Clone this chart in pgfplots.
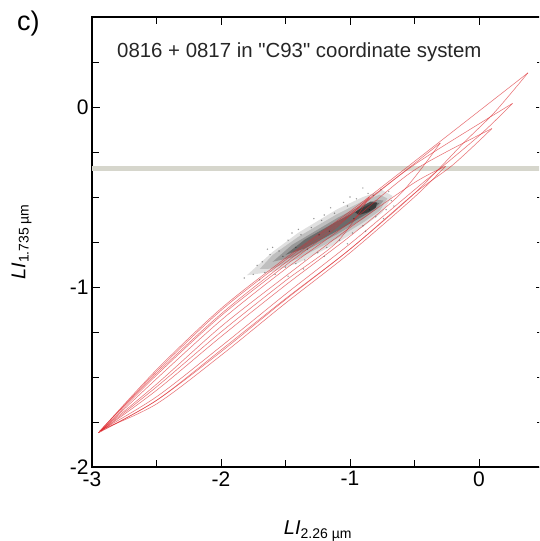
\documentclass[border=0pt]{standalone}
\usepackage{fontspec}
\setmainfont{Liberation Sans}[Ligatures=TeXOff]
\usepackage{pgfplots}
\pgfplotsset{compat=1.18}

\definecolor{loopred}{RGB}{220,40,45}
\definecolor{band}{RGB}{214,214,204}

\begin{document}
\begin{tikzpicture}
\path[use as bounding box] (0,0) rectangle (539pt,541pt);
\clip (0,0) rectangle (539pt,541pt);
\begin{axis}[
    at={(92pt,74pt)}, anchor=south west,
    scale only axis, width=451.5pt, height=450pt,
    xmin=-3, xmax=0.5, ymin=-2, ymax=0.5,
    clip=false,
    axis line style={line width=1.6pt},
    xtick={-3,-2,-1,0}, xticklabels={-3,-2,-1,0},
    minor xtick={-2.5,-1.5,-0.5},
    ytick={-2,-1,0}, yticklabels={-2,-1,0},
    minor ytick={-1.75,-1.5,-1.25,-0.75,-0.5,-0.25,0.25},
    major tick length=8pt, minor tick length=7pt,
    every tick/.style={line width=0.9pt, black},
    ticklabel style={font=\fontsize{21}{21}\selectfont},
    xticklabel style={yshift=-1pt},
    xlabel={{\itshape LI}\raisebox{-0.3ex}{\fontsize{14}{14}\selectfont 2.26 µm}},
    ylabel={{\itshape LI}\raisebox{-0.3ex}{\fontsize{14}{14}\selectfont 1.735 µm}},
    label style={font=\fontsize{20}{20}\selectfont},
    xlabel style={at={(axis description cs:0.5,-0.151)}, anchor=base},
    ylabel style={at={(axis description cs:-0.1473,0.5)}, anchor=base},
]
% grey band
\addplot[line width=5pt, band] coordinates {(-3,-0.344) (0.5,-0.344)};

% point cloud, drawn as nested density layers
\addplot[fill=black, draw=none, opacity=0.12] coordinates {
(-1.80,-0.935) (-1.6,-0.805) (-1.4,-0.698) (-1.1,-0.568) (-0.9,-0.500)
(-0.75,-0.462) (-0.67,-0.494) (-0.75,-0.586) (-0.9,-0.666) (-1.1,-0.756)
(-1.4,-0.866) (-1.6,-0.915) (-1.80,-0.935)};
\addplot[fill=black, draw=none, opacity=0.15] coordinates {
(-1.70,-0.900) (-1.6,-0.822) (-1.4,-0.721) (-1.1,-0.595) (-0.9,-0.523)
(-0.77,-0.487) (-0.71,-0.508) (-0.77,-0.577) (-0.9,-0.643) (-1.1,-0.730)
(-1.4,-0.841) (-1.6,-0.898) (-1.70,-0.900)};
\addplot[fill=black, draw=none, opacity=0.20] coordinates {
(-1.60,-0.860) (-1.45,-0.766) (-1.1,-0.617) (-0.9,-0.543) (-0.79,-0.515)
(-0.74,-0.520) (-0.79,-0.565) (-0.9,-0.623) (-1.1,-0.707) (-1.45,-0.836)
(-1.60,-0.860)};
\addplot[fill=black, draw=none, opacity=0.30] coordinates {
(-1.50,-0.821) (-1.35,-0.736) (-1.1,-0.635) (-0.9,-0.559) (-0.82,-0.532)
(-0.77,-0.532) (-0.82,-0.572) (-0.9,-0.607) (-1.1,-0.689) (-1.35,-0.786)
(-1.50,-0.821)};
\addplot[fill=black, draw=none, opacity=0.45] coordinates {
(-0.96,-0.585) (-0.90,-0.550) (-0.84,-0.525) (-0.79,-0.530) (-0.80,-0.560)
(-0.86,-0.585) (-0.93,-0.600) (-0.96,-0.585)};
\addplot[only marks, mark=*, mark size=0.55pt, black, opacity=0.25] coordinates {
(-1.75,-0.93) (-1.72,-0.88) (-1.66,-0.92) (-1.62,-0.82) (-1.58,-0.93)
(-1.55,-0.80) (-1.50,-0.89) (-1.48,-0.74) (-1.42,-0.87) (-1.38,-0.71)
(-1.35,-0.85) (-1.30,-0.67) (-1.25,-0.81) (-1.22,-0.63) (-1.18,-0.78)
(-1.12,-0.59) (-1.08,-0.74) (-1.02,-0.55) (-0.98,-0.70) (-0.95,-0.51)
(-0.90,-0.66) (-0.86,-0.48) (-0.80,-0.61) (-0.76,-0.46) (-0.72,-0.57)
(-0.68,-0.52) (-1.60,-0.78) (-1.45,-0.70) (-1.28,-0.62) (-1.15,-0.56)
(-1.00,-0.50) (-0.90,-0.45) (-1.68,-0.86) (-1.52,-0.83) (-0.82,-0.49)
(-1.82,-0.95) (-1.70,-0.96) (-1.64,-0.79) (-1.40,-0.68) (-1.20,-0.60)
(-1.05,-0.53) (-0.70,-0.47) (-0.66,-0.55) (-0.74,-0.62) (-0.88,-0.69)
(-1.02,-0.76) (-1.20,-0.83) (-1.36,-0.90) (-1.48,-0.94) (-1.33,-0.79)
(-1.16,-0.69) (-0.97,-0.62) (-0.85,-0.57) (-1.42,-0.78) (-1.24,-0.71)};

% model loops: each loop = rising branch + falling branch
\pgfplotsset{loop/.style={line width=0.55pt, loopred, opacity=0.65, smooth, tension=0.5}}
% loop 1
\addplot[loop] coordinates {(-2.95,-1.81) (-2.5,-1.46) (-2.0,-1.12) (-1.5,-0.84) (-1.0,-0.58) (-0.46,-0.28) (0.38,0.19)};
\addplot[loop] coordinates {(0.38,0.19) (0.12,-0.03) (-0.12,-0.20) (-0.5,-0.48) (-1.0,-0.79) (-1.5,-1.07) (-2.0,-1.36) (-2.5,-1.63) (-2.95,-1.81)};
% loop 2
\addplot[loop] coordinates {(-2.94,-1.80) (-2.5,-1.48) (-2.0,-1.15) (-1.5,-0.865) (-1.0,-0.60) (-0.5,-0.32) (0.26,0.02)};
\addplot[loop] coordinates {(0.26,0.02) (0.0,-0.16) (-0.5,-0.46) (-1.0,-0.76) (-1.5,-1.04) (-2.0,-1.33) (-2.5,-1.61) (-2.94,-1.80)};
% loop 3
\addplot[loop] coordinates {(-2.93,-1.80) (-2.5,-1.51) (-2.0,-1.185) (-1.5,-0.90) (-1.0,-0.64) (-0.5,-0.35) (0.1,-0.12)};
\addplot[loop] coordinates {(0.1,-0.12) (-0.2,-0.32) (-0.5,-0.48) (-1.0,-0.79) (-1.5,-1.065) (-2.0,-1.35) (-2.5,-1.63) (-2.93,-1.80)};
% loop 4
\addplot[loop] coordinates {(-2.92,-1.79) (-2.5,-1.54) (-2.0,-1.22) (-1.5,-0.94) (-1.0,-0.67) (-0.5,-0.42) (-0.26,-0.33)};
\addplot[loop] coordinates {(-0.26,-0.33) (-0.5,-0.50) (-1.0,-0.81) (-1.5,-1.09) (-2.0,-1.38) (-2.5,-1.65) (-2.92,-1.79)};
% loop 5
\addplot[loop] coordinates {(-2.95,-1.81) (-2.5,-1.47) (-2.0,-1.13) (-1.5,-0.85) (-1.0,-0.59) (-0.6,-0.37) (-0.30,-0.20)};
\addplot[loop] coordinates {(-0.30,-0.20) (-0.6,-0.476) (-1.0,-0.718) (-1.5,-0.99) (-2.0,-1.276) (-2.5,-1.574) (-2.95,-1.81)};
% loop 6
\addplot[loop] coordinates {(-2.93,-1.80) (-2.5,-1.49) (-2.0,-1.16) (-1.5,-0.88) (-1.1,-0.665) (-0.85,-0.50)};
\addplot[loop] coordinates {(-0.85,-0.50) (-1.1,-0.75) (-1.5,-0.965) (-2.0,-1.25) (-2.5,-1.555) (-2.93,-1.80)};
\end{axis}
\node[anchor=base west, inner sep=0pt, font=\fontsize{20.4}{20.4}\selectfont, text=black!85]
  at (117pt,483pt) {0816 + 0817 in "C93" coordinate system};
\node[anchor=base west, font=\fontsize{27}{27}\selectfont, inner sep=0pt] at (17pt,510pt) {c)};
\end{tikzpicture}
\end{document}
